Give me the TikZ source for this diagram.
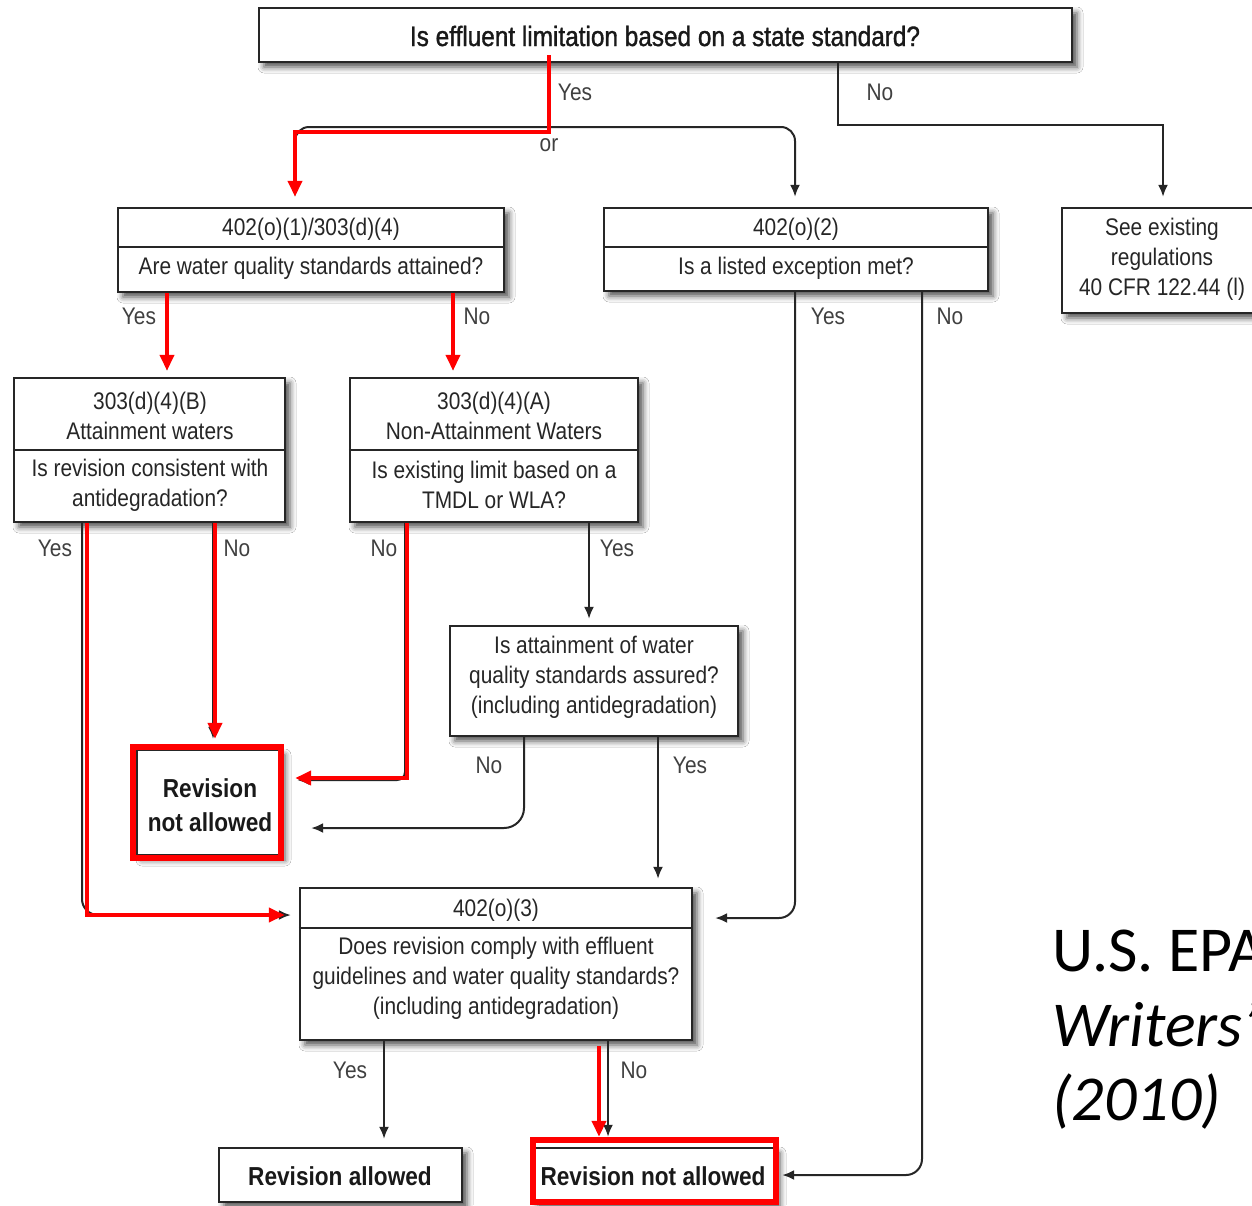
\documentclass[tikz,border=0pt]{standalone}
\usepackage{fontspec}
\newfontfamily\chartfont{Liberation Sans}[FakeStretch=0.87]
\newfontfamily\charttop{Liberation Sans}[FakeStretch=0.87, FakeBold=1.2]
\newfontfamily\calfont{Carlito}
\usetikzlibrary{arrows.meta,shadows.blur,fit,calc}
\tikzset{
  box/.style={draw=black!85, line width=1.2pt, fill=white, inner sep=0pt,
    blur shadow={shadow xshift=2.5pt, shadow yshift=-2.5pt, shadow blur radius=3pt, shadow opacity=70}},
  divline/.style={draw=black!85, line width=1.2pt},
  txt/.style={font={\chartfont\fontsize{12}{15}\selectfont}, text=black!85, align=center, inner sep=0pt},
  bigtxt/.style={font={\charttop\fontsize{14}{16}\selectfont}, text=black!90, align=center, inner sep=0pt},
  boldtxt/.style={font={\chartfont\bfseries\fontsize{13}{17}\selectfont}, text=black!90, align=center, inner sep=0pt},
  lbl/.style={font={\chartfont\fontsize{12}{15}\selectfont}, text=black!75, inner sep=0pt},
  plain/.style={draw=black!85, line width=1pt},
  conn/.style={draw=black!85, line width=1pt, -{Latex[length=6pt,width=5pt]}},
  redc/.style={draw=red, line width=2.4pt, line join=miter, -{Triangle[length=8pt,width=7pt]}},
  redbox/.style={draw=red, line width=2.8pt, inner sep=0pt},
  cal/.style={font={\calfont\fontsize{32}{38}\selectfont}, text=black, inner sep=0pt, anchor=base west},
}
\begin{document}
\begin{tikzpicture}[x=0.5pt,y=-0.5pt]
\useasboundingbox (0,0) rectangle (1252,1205);
\fill[white] (0,0) rectangle (1252,1205);
\clip (0,0) rectangle (1252,1205);

% boxes
\node[box, fit={(259,8) (1072,62)}] (top) {};
\node[box, fit={(118,208) (504,292)}] (b1) {};
\node[box, fit={(604,208) (988,291)}] (b2) {};
\node[box, fit={(1062,208) (1264,313)}] (b3) {};
\node[box, fit={(14,378) (285,522)}] (b4) {};
\node[box, fit={(350,378) (638,522)}] (b5) {};
\node[box, fit={(450,626) (738,736)}] (b7) {};
\node[box, fit={(137,750) (280,855)}] (b6) {};
\node[box, fit={(300,888) (692,1040)}] (b8) {};
\node[box, fit={(219,1148) (462,1202)}] (b9) {};
\node[box, fit={(533,1148) (775,1202)}] (b10) {};

% dividers
\draw[divline] (b1.west |- 0,247) -- (b1.east |- 0,247);
\draw[divline] (b2.west |- 0,247) -- (b2.east |- 0,247);
\draw[divline] (b4.west |- 0,450) -- (b4.east |- 0,450);
\draw[divline] (b5.west |- 0,450) -- (b5.east |- 0,450);
\draw[divline] (b8.west |- 0,928) -- (b8.east |- 0,928);

% texts
\node[bigtxt] (topt) at (665,36) {Is effluent limitation based on a state standard?};
\node[txt] (b1a) at (311,229) {402(o)(1)/303(d)(4)};
\node[txt] (b1b) at (311,268) {Are water quality standards attained?};
\node[txt] (b2a) at (796,229) {402(o)(2)};
\node[txt] (b2b) at (796,268) {Is a listed exception met?};
\node[txt] (b3t) at (1162,259) {See existing\\regulations\\40 CFR 122.44 (l)};
\node[txt] (b4a) at (150,416) {303(d)(4)(B)\\Attainment waters};
\node[txt] (b4b) at (150,485) {Is revision consistent with\\antidegradation?};
\node[txt] (b5a) at (494,416) {303(d)(4)(A)\\Non-Attainment Waters};
\node[txt] (b5b) at (494,485) {Is existing limit based on a\\TMDL or WLA?};
\node[txt] (b7t) at (594,677) {Is attainment of water\\quality standards assured?\\(including antidegradation)};
\node[boldtxt] (b6t) at (210,805) {Revision\\not allowed};
\node[txt] (b8a) at (496,910) {402(o)(3)};
\node[txt] (b8b) at (496,978) {Does revision comply with effluent\\guidelines and water quality standards?\\(including antidegradation)};
\node[boldtxt] (b9t) at (340,1176) {Revision allowed};
\node[boldtxt] (b10t) at (653,1176) {Revision not allowed};

% black connectors
\coordinate (split) at (549,127);
\draw[plain] (top.south -| split) -- (split);
\draw[conn, rounded corners=7pt, shorten >=5pt] (split) -| (b1.north -| 295,0);
\draw[conn, rounded corners=7pt, shorten >=5pt] (split) -| (b2.north -| 795,0);
\draw[conn, shorten >=5pt] (top.south -| 838,0) -- (838,125) -| (b3.north);
\draw[conn, shorten >=3pt] (b1.south -| 167,0) -- (b4.north -| 167,0);
\draw[conn, shorten >=3pt] (b1.south -| 453,0) -- (b5.north -| 453,0);
\draw[conn, rounded corners=8pt, shorten >=11pt] (b2.south -| 795,0) |- (b8.east |- 0,918);
\draw[conn, rounded corners=8pt, shorten >=3pt] (b2.south -| 922,0) |- (b10.east);
\draw[conn, rounded corners=8pt, shorten >=4pt] (b4.south -| 82,0) |- (b8.west |- 0,915);
\draw[conn, shorten >=5pt] (b4.south -| 213,0) -- (b6.north -| 213,0);
\draw[conn, rounded corners=4pt, shorten >=8pt] (b5.south -| 405,0) |- (b6.east |- 0,780);
\draw[conn, shorten >=3pt] (b5.south -| 589,0) -- (b7.north -| 589,0);
\draw[conn, rounded corners=10pt, shorten >=15pt] (b7.south -| 524,0) |- (b6.east |- 0,828);
\draw[conn, shorten >=4pt] (b7.south -| 658,0) -- (b8.north -| 658,0);
\draw[conn, shorten >=4pt] (b8.south -| 384,0) -- (b9.north -| 384,0);
\draw[conn, shorten >=5pt] (b8.south -| 608,0) -- (b10.north -| 608,0);

% labels
\node[lbl] (l1) at (575,92) {Yes};
\node[lbl] (l2) at (880,92) {No};
\node[lbl] (l3) at (549,145) {or};
\node[lbl] (l4) at (139,316) {Yes};
\node[lbl] (l5) at (477,316) {No};
\node[lbl] (l6) at (828,316) {Yes};
\node[lbl] (l7) at (950,316) {No};
\node[lbl] (l8) at (55,548) {Yes};
\node[lbl] (l9) at (237,548) {No};
\node[lbl] (l10) at (384,548) {No};
\node[lbl] (l11) at (617,548) {Yes};
\node[lbl] (l12) at (489,765) {No};
\node[lbl] (l13) at (690,765) {Yes};
\node[lbl] (l14) at (350,1070) {Yes};
\node[lbl] (l15) at (634,1070) {No};

% red highlights
\node[redbox, fit={(133,747) (281,858)}] (r1) {};
\node[redbox, fit={(533,1140) (776,1202)}] (r2) {};
\draw[redc, shorten >=5pt] ($(top.south -| 549,0)+(0,-8)$) -- (549,132) -| (b1.north -| 295,0);
\draw[redc, shorten >=3pt] (b1.south -| 167,0) -- (b4.north -| 167,0);
\draw[redc, shorten >=3pt] (b1.south -| 453,0) -- (b5.north -| 453,0);
\draw[redc, shorten >=7pt] (b4.south -| 87,0) |- (b8.west |- 0,915);
\draw[redc, shorten >=5pt] (b4.south -| 215,0) -- (b6.north -| 215,0);
\draw[redc, shorten >=7pt] (b5.south -| 407,0) |- (b6.east |- 0,778);
\draw[redc, shorten >=5pt] ($(b8.south -| 599,0)+(0,5)$) -- (b10.north -| 599,0);

% source note (cut off at the right edge, as in the reference)
\node[cal] (src1) at (1052,971) {U.S. EPA};
\node[cal, font={\calfont\itshape\fontsize{32}{38}\selectfont}] (src2) at (1052,1046) {Writers’};
\node[cal, font={\calfont\itshape\fontsize{32}{38}\selectfont}] (src3) at (1052,1120) {(2010)};
\end{tikzpicture}
\end{document}
